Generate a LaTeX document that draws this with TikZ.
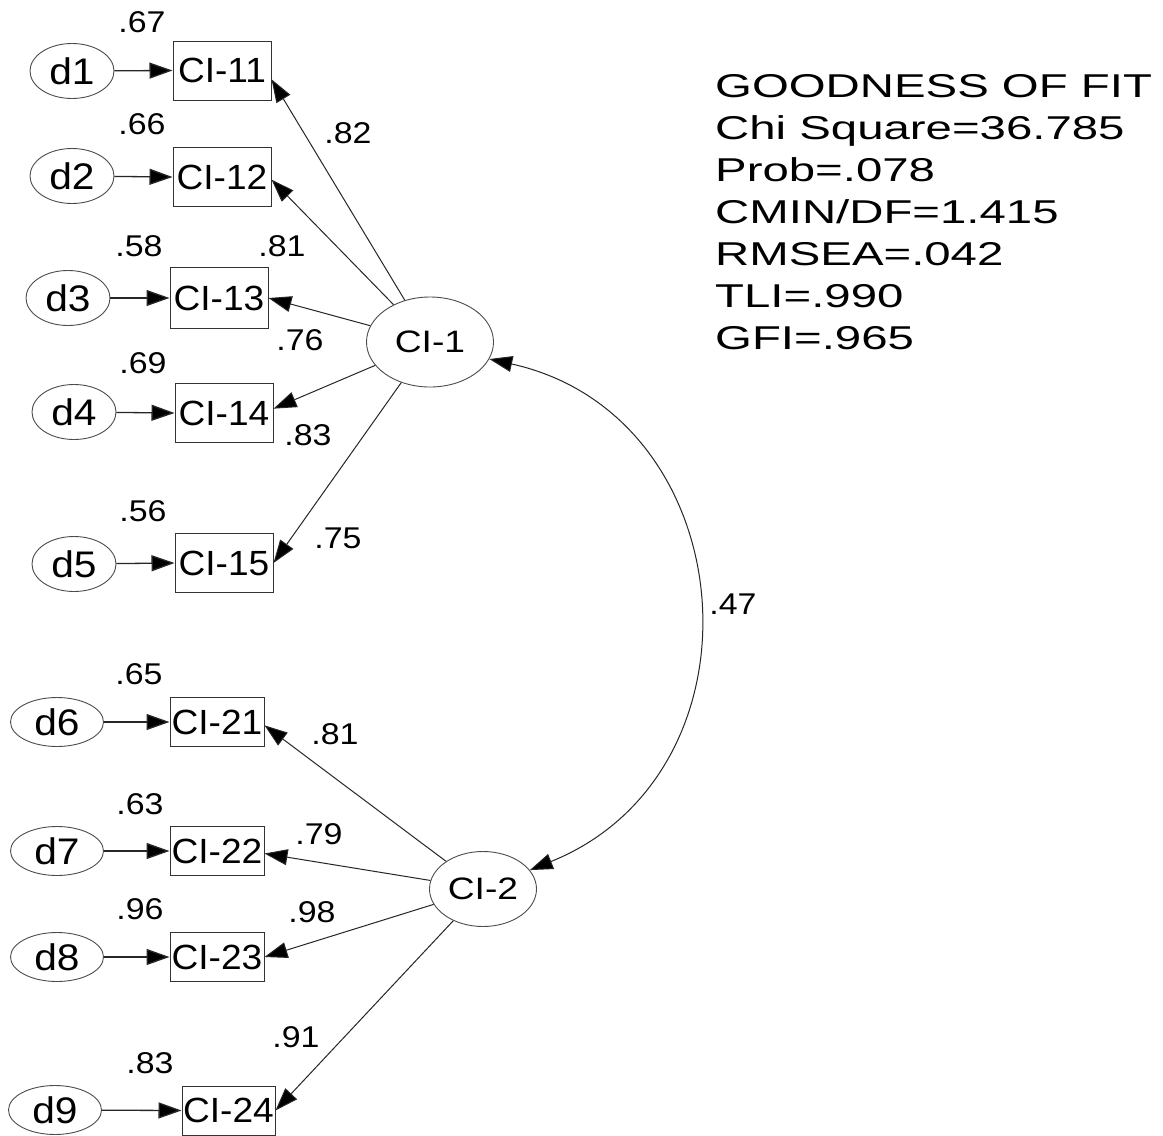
\documentclass[tikz,border=0pt]{standalone}
\usepackage{fontspec}
\newfontfamily\dfont{Liberation Sans}[FakeStretch=1.1]
\newfontfamily\cifont{Liberation Sans}[FakeStretch=1.06]
\newfontfamily\numfont{Liberation Sans}[FakeStretch=1.13]
\newfontfamily\latfont{Liberation Sans}[FakeStretch=1.2]
\newfontfamily\goffont{Liberation Sans}[FakeStretch=1.435]
\usetikzlibrary{shapes.geometric,arrows.meta}
\begin{document}
\begin{tikzpicture}[x=1pt,y=-1pt,
  obs/.style={draw=black!80,line width=1pt,rectangle,inner sep=0pt,minimum width=98pt,minimum height=59pt,font=\cifont\fontsize{35}{40}\selectfont},
  obsb/.style={obs,minimum width=94pt,minimum height=49pt},
  err/.style={draw=black!70,line width=0.9pt,ellipse,inner sep=0pt,minimum width=84pt,minimum height=55pt,font=\dfont\fontsize{37}{42}\selectfont},
  errb/.style={err,minimum width=93pt,minimum height=49pt},
  lat/.style={draw=black!70,line width=0.9pt,ellipse,inner sep=0pt,font=\latfont\fontsize{31}{35}\selectfont},
  lab/.style={font=\numfont\fontsize{30}{34}\selectfont,inner sep=0pt},
  arr/.style={draw=black!85,line width=1pt,-{Triangle[length=23pt,width=16pt,fill=black]}},
  earr/.style={arr,line width=1.3pt},
  darr/.style={draw=black!85,line width=1pt,{Triangle[length=23pt,width=16pt,fill=black]}-{Triangle[length=23pt,width=16pt,fill=black]}},
]
\useasboundingbox[fill=white] (0,0) rectangle (1163,1136);

% latent factors
\node[lat,minimum width=127pt,minimum height=90pt] (CI1) at (430,342) {CI-1};
\node[lat,minimum width=107pt,minimum height=75pt] (CI2) at (483,889) {CI-2};

% indicators, top group
\node[obs] (CI11) at (222,70.5) {CI-11};
\node[obs] (CI12) at (222,177) {CI-12};
\node[obs,minimum height=61pt] (CI13) at (219,298) {CI-13};
\node[obs] (CI14) at (224,413) {CI-14};
\node[obs] (CI15) at (224,563) {CI-15};
% indicators, bottom group
\node[obsb] (CI21) at (217,722) {CI-21};
\node[obsb] (CI22) at (217,851) {CI-22};
\node[obsb] (CI23) at (217,957) {CI-23};
\node[obsb,minimum width=93pt] (CI24) at (228.5,1110.5) {CI-24};

% errors
\node[err] (d1) at (72,71) {d1};
\node[err] (d2) at (72,176) {d2};
\node[err] (d3) at (68,298) {d3};
\node[err] (d4) at (74,412) {d4};
\node[err] (d5) at (74,564) {d5};
\node[errb] (d6) at (57,722) {d6};
\node[errb] (d7) at (57,851) {d7};
\node[errb] (d8) at (57,957) {d8};
\node[errb] (d9) at (55,1110) {d9};

% error arrows
\draw[earr] (d1) -- (CI11.west);
\draw[earr] (d2) -- (CI12.west);
\draw[earr] (d3) -- (CI13.west);
\draw[earr] (d4) -- (CI14.west);
\draw[earr] (d5) -- (CI15.west);
\draw[earr] (d6) -- (CI21.west);
\draw[earr] (d7) -- (CI22.west);
\draw[earr] (d8) -- (CI23.west);
\draw[earr] (d9) -- (CI24.west);

% loadings
\draw[arr] (CI1) -- (CI11.-10);
\draw[arr] (CI1) -- (CI12.-3);
\draw[arr] (CI1) -- (CI13.east);
\draw[arr] (CI1) -- (CI14.5);
\draw[arr] (CI1) -- (CI15.east);
\draw[arr] (CI2) -- (CI21.-4);
\draw[arr] (CI2) -- (CI22.-3);
\draw[arr] (CI2) -- (CI23.east);
\draw[arr] (CI2) -- (CI24.east);

% covariance
\draw[darr] (CI1.-16) .. controls +(-12.5:262pt) and +(22:262pt) .. (CI2.22);

% R-squared labels
\node[lab] (r1) at (142,22) {.67};
\node[lab] (r2) at (142,124) {.66};
\node[lab] (r3) at (139,246) {.58};
\node[lab] (r4) at (143,363) {.69};
\node[lab] (r5) at (143,511) {.56};
\node[lab] (r6) at (139,674) {.65};
\node[lab] (r7) at (140,804) {.63};
\node[lab] (r8) at (140,909) {.96};
\node[lab] (r9) at (150,1063) {.83};

% loading labels
\node[lab] (w1) at (348,133) {.82};
\node[lab] (w2) at (282,246) {.81};
\node[lab] (w3) at (300,340) {.76};
\node[lab] (w4) at (308,435) {.83};
\node[lab] (w5) at (338,538) {.75};
\node[lab] (w6) at (335,734) {.81};
\node[lab] (w7) at (319,834) {.79};
\node[lab] (w8) at (312,912) {.98};
\node[lab] (w9) at (296,1037) {.91};
\node[lab] (cov) at (733,604) {.47};

% goodness of fit
\node[anchor=north west,inner sep=0pt,align=left,font=\goffont\fontsize{33}{42}\selectfont] (gof) at (715,74)
{GOODNESS OF FIT\\Chi Square=36.785\\Prob=.078\\CMIN/DF=1.415\\RMSEA=.042\\TLI=.990\\GFI=.965};
\end{tikzpicture}
\end{document}
